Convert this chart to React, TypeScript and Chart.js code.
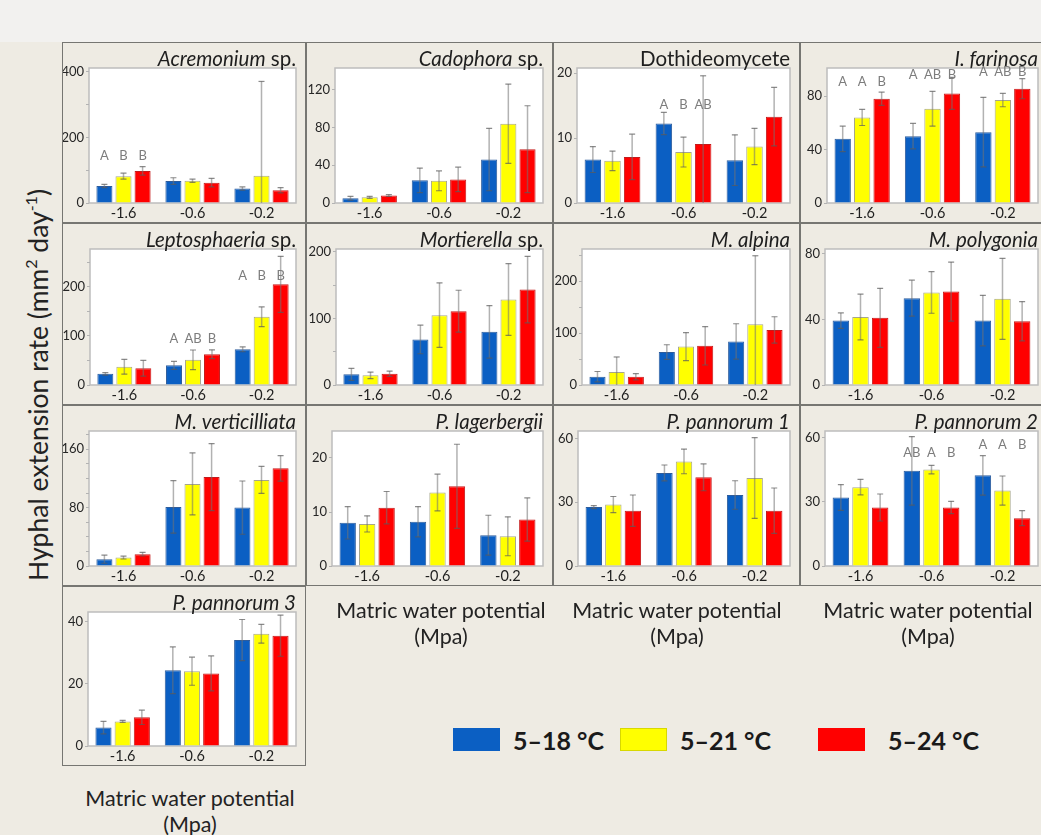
import React, { useEffect, useRef } from 'react';
import { Chart, registerables } from 'chart.js';

Chart.register(...registerables);

const FONT = 'Lato, "Open Sans", sans-serif';
const PAGE_BG = '#eeebe3';
const TOP_BG = '#f2f1ef';

// Matric water potential classes (MPa) and the three temperature regimes
const POTENTIALS = ['-1.6', '-0.6', '-0.2'];
const REGIMES = ['5–18 °C', '5–21 °C', '5–24 °C'];
const FILLS = ['#0b5fc3', '#ffff00', '#ff0000'];
const EDGES = ['#2d5c9c', '#a6a68c', '#c41a1a'];

// Mean hyphal extension rate (mm² day⁻¹): one row per regime, one column per potential.
// Matching *Err arrays hold the half-width of each error bar.
const acremoniumMean = [[52, 67, 44], [82, 68, 83], [98, 62, 39]];
const acremoniumErr = [[5, 10, 5], [9, 5, 288], [13, 13, 8]];

const cadophoraMean = [[5, 24, 46], [6, 23.5, 84], [8, 25, 57]];
const cadophoraErr = [[2, 13, 33], [1, 10.5, 42], [1, 13, 46]];

const dothideomyceteMean = [[6.7, 12.25, 6.6], [6.5, 7.85, 8.7], [7.1, 9.1, 13.3]];
const dothideomyceteErr = [[2, 1.7, 3.9], [1.5, 2.3, 2.8], [3.5, 10.5, 4.5]];

const farinosaMean = [[48, 50, 53], [64, 70.5, 77], [78, 82, 85.5]];
const farinosaErr = [[9.5, 9.5, 26], [6, 13, 5], [5, 12, 7.5]];

const leptosphaeriaMean = [[22.7, 40, 72.7], [37, 51.3, 139], [34, 62.7, 205]];
const leptosphaeriaErr = [[2.5, 8, 5], [15, 20, 20], [16, 9, 57]];

const mortierellaMean = [[16, 68.5, 80], [14.5, 105, 128.5], [17, 111, 143.5]];
const mortierellaErr = [[9, 21.5, 39.5], [5, 48.5, 54], [4, 31.5, 50]];

const alpinaMean = [[16, 63.5, 84], [25, 74, 117], [16, 75.5, 106]];
const alpinaErr = [[10, 14, 34], [29, 27, 132], [6, 37, 25.5]];

const polygoniaMean = [[39.3, 53, 39.3], [41.5, 56.5, 52.6], [41, 57, 38.9]];
const polygoniaErr = [[4.7, 11, 15.4], [14, 12.7, 24.7], [18, 18, 12]];

const verticilliataMean = [[9.3, 81, 80], [11.6, 112.5, 118], [16.2, 121.8, 133.8]];
const verticilliataErr = [[5.5, 36, 36.5], [2, 42.5, 18.5], [2.5, 46, 17.5]];

const lagerbergiiMean = [[8, 8.2, 5.7], [7.8, 13.6, 5.5], [10.8, 14.75, 8.6]];
const lagerbergiiErr = [[3, 2.8, 3.7], [1.5, 3.4, 3.6], [3, 7.8, 4]];

const pannorum1Mean = [[27.7, 43.75, 33.4], [28.9, 49.2, 41.4], [26, 41.7, 26]];
const pannorum1Err = [[0.7, 3.75, 6.7], [3.8, 5.8, 19], [7.4, 6.3, 10.7]];

const pannorum2Mean = [[32, 44.4, 42.3], [36.8, 45, 35.2], [27.3, 27.3, 22.3]];
const pannorum2Err = [[6, 16, 9.2], [3.6, 2, 6.8], [6.3, 2.9, 3.5]];

const pannorum3Mean = [[5.9, 24.3, 34], [7.9, 24, 36], [9.2, 23.3, 35.4]];
const pannorum3Err = [[2, 7.5, 6.6], [0.3, 4.5, 3], [2.3, 5.6, 6.6]];

// Significance letters per potential group (null where none are shown)
const acremoniumLetters = [['A', 'B', 'B'], null, null];
const dothideomyceteLetters = [null, ['A', 'B', 'AB'], null];
const farinosaLetters = [['A', 'A', 'B'], ['A', 'AB', 'B'], ['A', 'AB', 'B']];
const leptosphaeriaLetters = [null, ['A', 'AB', 'B'], ['A', 'B', 'B']];
const pannorum2Letters = [null, ['AB', 'A', 'B'], ['A', 'A', 'B']];

// Y-axis tick labels per panel
const acremoniumTicks = [0, 200, 400];
const cadophoraTicks = [0, 40, 80, 120];
const dothideomyceteTicks = [0, 10, 20];
const farinosaTicks = [0, 40, 80];
const leptosphaeriaTicks = [0, 100, 200];
const mortierellaTicks = [0, 100, 200];
const alpinaTicks = [0, 100, 200];
const polygoniaTicks = [0, 40, 80];
const verticilliataTicks = [0, 80, 160];
const lagerbergiiTicks = [0, 10, 20];
const pannorum1Ticks = [0, 30, 60];
const pannorum2Ticks = [0, 30, 60];
const pannorum3Ticks = [0, 20, 40];

type TitlePart = { text: string; italic: boolean };
type LetterRow = string[] | null;

interface PanelSpec {
  title: TitlePart[];
  mean: number[][];
  err: number[][];
  ticks: number[];
  minor: number;
  yMax: number;
  letters?: LetterRow[];
  letterLevel?: (number | null)[];
  left: number;
}

const it = (text: string): TitlePart => ({ text, italic: true });
const rm = (text: string): TitlePart => ({ text, italic: false });

const PANELS: PanelSpec[] = [
  { title: [it('Acremonium'), rm(' sp.')], mean: acremoniumMean, err: acremoniumErr, ticks: acremoniumTicks, minor: 100, yMax: 412, letters: acremoniumLetters, letterLevel: [144, null, null], left: 27 },
  { title: [it('Cadophora'), rm(' sp.')], mean: cadophoraMean, err: cadophoraErr, ticks: cadophoraTicks, minor: 40, yMax: 143, left: 29 },
  { title: [rm('Dothideomycete')], mean: dothideomyceteMean, err: dothideomyceteErr, ticks: dothideomyceteTicks, minor: 10, yMax: 20.8, letters: dothideomyceteLetters, letterLevel: [null, 15.1, null], left: 24 },
  { title: [it('I. farinosa')], mean: farinosaMean, err: farinosaErr, ticks: farinosaTicks, minor: 40, yMax: 101, letters: farinosaLetters, letterLevel: [91, 96, 98], left: 27 },
  { title: [it('Leptosphaeria'), rm(' sp.')], mean: leptosphaeriaMean, err: leptosphaeriaErr, ticks: leptosphaeriaTicks, minor: 50, yMax: 277, letters: leptosphaeriaLetters, letterLevel: [null, 95, 223], left: 28 },
  { title: [it('Mortierella'), rm(' sp.')], mean: mortierellaMean, err: mortierellaErr, ticks: mortierellaTicks, minor: 50, yMax: 204.5, left: 30 },
  { title: [it('M. alpina')], mean: alpinaMean, err: alpinaErr, ticks: alpinaTicks, minor: 50, yMax: 262, left: 29 },
  { title: [it('M. polygonia')], mean: polygoniaMean, err: polygoniaErr, ticks: polygoniaTicks, minor: 40, yMax: 83, left: 25 },
  { title: [it('M. verticilliata')], mean: verticilliataMean, err: verticilliataErr, ticks: verticilliataTicks, minor: 20, yMax: 185, left: 27 },
  { title: [it('P. lagerbergii')], mean: lagerbergiiMean, err: lagerbergiiErr, ticks: lagerbergiiTicks, minor: 10, yMax: 25, left: 26 },
  { title: [it('P. pannorum 1')], mean: pannorum1Mean, err: pannorum1Err, ticks: pannorum1Ticks, minor: 30, yMax: 63.5, left: 25 },
  { title: [it('P. pannorum 2')], mean: pannorum2Mean, err: pannorum2Err, ticks: pannorum2Ticks, minor: 30, yMax: 63, letters: pannorum2Letters, letterLevel: [null, 53, 56.5], left: 25 },
  { title: [it('P. pannorum 3')], mean: pannorum3Mean, err: pannorum3Err, ticks: pannorum3Ticks, minor: 20, yMax: 43, left: 26 },
];

// Frame grid of the small multiples
const COL_X = [62, 306, 553, 800, 1052];
const ROW_Y = [42, 223, 405, 586, 766];
const FRAME_BORDER = 1;
const PLOT_TOP = 26;
const PLOT_BOTTOM = 20;

// White plotting area with a light grey outline
const plotFrame = {
  id: 'plotFrame',
  beforeDraw(chart: any) {
    const { ctx, chartArea: a } = chart;
    ctx.save();
    ctx.fillStyle = '#ffffff';
    ctx.fillRect(a.left, a.top, a.right - a.left, a.bottom - a.top);
    ctx.strokeStyle = '#bdbdbd';
    ctx.lineWidth = 1.5;
    ctx.strokeRect(a.left, a.top, a.right - a.left, a.bottom - a.top);
    ctx.restore();
  },
};

// Vertical error bars with small caps, drawn over the bars
const errorBars = {
  id: 'errorBars',
  afterDatasetsDraw(chart: any) {
    const { ctx, chartArea: a } = chart;
    const y = chart.scales.y;
    ctx.save();
    chart.data.datasets.forEach((ds: any, di: number) => {
      const meta = chart.getDatasetMeta(di);
      meta.data.forEach((bar: any, i: number) => {
        const m = ds.data[i];
        const e = ds.errors[i];
        const hiV = m + e;
        const loV = Math.max(m - e, 0);
        const top = Math.max(y.getPixelForValue(hiV), a.top);
        const bot = Math.min(y.getPixelForValue(loV), a.bottom);
        ctx.strokeStyle = 'rgba(115,115,115,0.55)';
        ctx.lineWidth = 1.5;
        ctx.beginPath();
        ctx.moveTo(bar.x, top);
        ctx.lineTo(bar.x, bot);
        ctx.stroke();
        ctx.strokeStyle = 'rgba(90,90,90,0.7)';
        ctx.lineWidth = 1.2;
        ctx.beginPath();
        if (y.getPixelForValue(hiV) >= a.top) {
          ctx.moveTo(bar.x - 3, top);
          ctx.lineTo(bar.x + 3, top);
        }
        if (m - e > 0) {
          ctx.moveTo(bar.x - 3, bot);
          ctx.lineTo(bar.x + 3, bot);
        }
        ctx.stroke();
      });
    });
    ctx.restore();
  },
};

// Significance letters above the bars, plus the panel title
const annotations = {
  id: 'annotations',
  afterDraw(chart: any, _args: any, opts: any) {
    const { ctx, chartArea: a } = chart;
    const y = chart.scales.y;
    const spec: PanelSpec = opts.spec;
    ctx.save();
    if (spec.letters && spec.letterLevel) {
      ctx.fillStyle = '#7d7d7d';
      ctx.font = `13px ${FONT}`;
      ctx.textAlign = 'center';
      ctx.textBaseline = 'middle';
      spec.letters.forEach((row, gi) => {
        const level = spec.letterLevel![gi];
        if (!row || level == null) return;
        row.forEach((txt, si) => {
          const bar = chart.getDatasetMeta(si).data[gi];
          ctx.fillText(txt, bar.x, y.getPixelForValue(level));
        });
      });
    }
    // title, right-aligned to the plot edge
    const fonts = spec.title.map((p) => `${p.italic ? 'italic ' : ''}20.5px ${FONT}`);
    let total = 0;
    const widths = spec.title.map((p, k) => {
      ctx.font = fonts[k];
      const w = ctx.measureText(p.text).width;
      total += w;
      return w;
    });
    let x = a.right - total;
    ctx.fillStyle = '#1e1e1e';
    ctx.textAlign = 'left';
    ctx.textBaseline = 'alphabetic';
    spec.title.forEach((p, k) => {
      ctx.font = fonts[k];
      ctx.fillText(p.text, x, PLOT_TOP - FRAME_BORDER - 2);
      x += widths[k];
    });
    ctx.restore();
  },
};

function Panel({ spec, x, y, w, h }: { spec: PanelSpec; x: number; y: number; w: number; h: number }) {
  const ref = useRef<HTMLCanvasElement>(null);
  const cw = w - 2 * FRAME_BORDER;
  const ch = h - 2 * FRAME_BORDER;
  const right = w > 249 ? 14 : 10;

  useEffect(() => {
    if (!ref.current) return;
    const tickSet = spec.ticks;
    const chart = new Chart(ref.current, {
      type: 'bar',
      data: {
        labels: POTENTIALS,
        datasets: REGIMES.map((label, k) => ({
          label,
          data: spec.mean[k],
          errors: spec.err[k],
          backgroundColor: FILLS[k],
          borderColor: EDGES[k],
          borderWidth: 1,
          categoryPercentage: 0.83,
          barPercentage: 0.84,
        })) as any,
      },
      options: {
        responsive: false,
        animation: false,
        devicePixelRatio: 1,
        layout: { padding: { top: PLOT_TOP - FRAME_BORDER, right: right - FRAME_BORDER, left: 0, bottom: 0 } },
        plugins: {
          legend: { display: false },
          tooltip: { enabled: false },
          annotations: { spec },
        } as any,
        scales: {
          x: {
            grid: { display: false, drawTicks: false },
            border: { display: false },
            ticks: { color: '#1f1f1f', font: { family: FONT, size: 14.5 }, padding: 2 },
            afterFit: (s: any) => {
              s.height = PLOT_BOTTOM - FRAME_BORDER;
            },
          },
          y: {
            min: 0,
            max: spec.yMax,
            border: { display: false },
            grid: { drawOnChartArea: false, drawTicks: true, tickLength: 3, color: '#b3b3b3' },
            ticks: {
              color: '#262626',
              font: { family: FONT, size: 13 },
              padding: 2,
              autoSkip: false,
              callback: (v: any) => (tickSet.includes(Number(v)) ? String(v) : ''),
            },
            // one tick per minor step; only the listed values carry a label
            afterBuildTicks: (s: any) => {
              const out: { value: number }[] = [];
              for (let k = 0; k * spec.minor <= spec.yMax + 1e-9; k++) out.push({ value: +(k * spec.minor).toFixed(6) });
              s.ticks = out;
            },
            afterFit: (s: any) => {
              s.width = spec.left - FRAME_BORDER;
            },
          },
        },
      },
      plugins: [plotFrame, errorBars, annotations],
    });
    return () => chart.destroy();
  }, [spec, cw, ch, right]);

  return (
    <div
      style={{
        position: 'absolute',
        left: x,
        top: y,
        width: w,
        height: h,
        boxSizing: 'border-box',
        border: `${FRAME_BORDER}px solid #767672`,
        background: PAGE_BG,
      }}
    >
      <canvas ref={ref} width={cw} height={ch} style={{ display: 'block', width: cw, height: ch }} />
    </div>
  );
}

const axisText: React.CSSProperties = {
  position: 'absolute',
  fontFamily: FONT,
  color: '#222',
  fontSize: 21.5,
  lineHeight: '26px',
  textAlign: 'center',
  whiteSpace: 'nowrap',
};

function AxisCaption({ cx, top }: { cx: number; top: number }) {
  return (
    <div style={{ ...axisText, left: cx - 150, top, width: 300 }}>
      Matric water potential
      <br />
      (Mpa)
    </div>
  );
}

function LegendItem({ x, textX, color, label, edge }: { x: number; textX: number; color: string; label: string; edge: string }) {
  return (
    <>
      <div
        style={{
          position: 'absolute',
          left: x,
          top: 728,
          width: 47,
          height: 23,
          background: color,
          boxSizing: 'border-box',
          border: `1px solid ${edge}`,
        }}
      />
      <div
        style={{
          position: 'absolute',
          left: textX,
          top: 724,
          fontFamily: FONT,
          fontWeight: 700,
          fontSize: 25,
          lineHeight: '32px',
          color: '#1a1a1a',
          whiteSpace: 'nowrap',
        }}
      >
        {label}
      </div>
    </>
  );
}

const supStyle: React.CSSProperties = { fontSize: 16, verticalAlign: 'top', lineHeight: '20px' };

export default function App() {
  useEffect(() => {
    document.body.style.margin = '0';
  }, []);

  return (
    <div
      style={{
        position: 'fixed',
        left: 0,
        top: 0,
        width: 1041,
        height: 835,
        overflow: 'hidden',
        background: PAGE_BG,
      }}
    >
      <div style={{ position: 'absolute', left: 0, top: 0, width: 1041, height: 42, background: TOP_BG }} />
      {PANELS.map((spec, i) => {
        const c = i % 4;
        const r = Math.floor(i / 4);
        const x = COL_X[c];
        const y = ROW_Y[r];
        return <Panel key={i} spec={spec} x={x} y={y} w={COL_X[c + 1] - x} h={ROW_Y[r + 1] - y} />;
      })}

      <div
        style={{
          ...axisText,
          fontSize: 26.5,
          left: 38 - 260,
          top: 385 - 17,
          width: 520,
          lineHeight: '34px',
          transform: 'rotate(-90deg)',
          transformOrigin: '50% 50%',
        }}
      >
        Hyphal extension rate (mm<sup style={supStyle}>2</sup> day<sup style={supStyle}>-1</sup>)
      </div>

      <AxisCaption cx={441} top={597} />
      <AxisCaption cx={677} top={597} />
      <AxisCaption cx={928} top={597} />
      <AxisCaption cx={190} top={785} />

      <LegendItem x={453} textX={513} color={FILLS[0]} edge="#0b5fc3" label={REGIMES[0]} />
      <LegendItem x={620} textX={680} color={FILLS[1]} edge="#d8d800" label={REGIMES[1]} />
      <LegendItem x={818} textX={888} color={FILLS[2]} edge="#ff0000" label={REGIMES[2]} />
    </div>
  );
}
